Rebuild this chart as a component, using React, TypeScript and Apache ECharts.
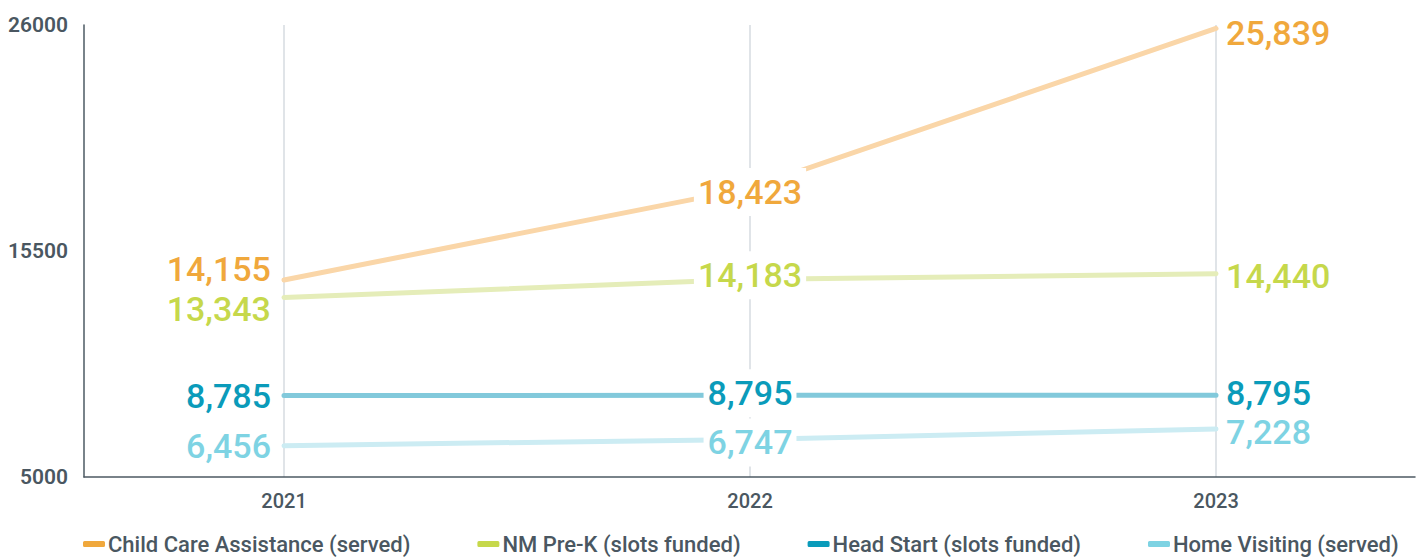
import React, { useEffect, useRef } from "react";
import * as echarts from "echarts";

const years = [2021, 2022, 2023];
const childCare = [14155, 18423, 25839];
const preK = [13343, 14183, 14440];
const headStart = [8785, 8795, 8795];
const homeVisiting = [6456, 6747, 7228];
const yTicks = [5000, 15500, 26000];
const seriesNames = [
  "Child Care Assistance (served)",
  "NM Pre-K (slots funded)",
  "Head Start (slots funded)",
  "Home Visiting (served)",
];

const FONT = "Roboto, 'Noto Sans', sans-serif";
const TEXT = "#4A5761";

export default function App() {
  const ref = useRef<HTMLDivElement>(null);
  useEffect(() => {
    if (!ref.current) return;
    const chart = echarts.init(ref.current, undefined, { renderer: "svg" });

    const values = [childCare, preK, headStart, homeVisiting];
    const labelColors = ["#F0A83C", "#C6D84B", "#0A9BBA", "#7ED3E3"];
    const lineColors = ["#FAD6A8", "#E5EDB9", "#82C9DB", "#CCECF3"];
    const leftOffsets = [
      [0, -11],
      [0, 12],
      [0, 0],
      [0, 0],
    ];
    const rightOffsets = [
      [0, 5],
      [0, 2],
      [0, -2],
      [0, 3],
    ];
    const midOffsets = [
      [0, 4],
      [0, -4],
      [0, -2],
      [0, 3],
    ];

    const fmt = (v: number) => v.toLocaleString("en-US");

    const series = values.map((vals, si) => ({
      name: seriesNames[si],
      type: "line",
      symbol: "circle",
      symbolSize: 0.1,
      showSymbol: true,
      itemStyle: { color: labelColors[si] },
      lineStyle: { color: lineColors[si], width: 5, cap: "round" },
      z: 2,
      data: vals.map((v, i) => {
        const base = {
          show: true,
          color: labelColors[si],
          fontFamily: FONT,
          fontSize: 34,
          lineHeight: 30,
          fontWeight: 500,
          formatter: (p: any) => fmt(p.value[1]),
        };
        let label: any;
        if (i === 0) {
          label = { ...base, position: "left", distance: 13, offset: leftOffsets[si] };
        } else if (i === vals.length - 1) {
          label = { ...base, position: "right", distance: 10, offset: rightOffsets[si] };
        } else {
          label = {
            ...base,
            position: "inside",
            offset: midOffsets[si],
            backgroundColor: "#ffffff",
            padding: [9, 4],
          };
        }
        return { value: [years[i], v], label };
      }),
    }));

    chart.setOption({
      animation: false,
      grid: { left: 84, right: 9, top: 25, bottom: 80, containLabel: false },
      legend: {
        left: 83,
        top: 533,
        padding: 0,
        icon: "roundRect",
        itemWidth: 22,
        itemHeight: 6,
        itemGap: 67,
        textStyle: { fontFamily: FONT, fontSize: 22, fontWeight: 500, color: TEXT, padding: [0, 0, 0, -2] },
        data: seriesNames.map((n, i) => ({ name: n, itemStyle: { color: labelColors[i] } })),
      },
      xAxis: {
        type: "value",
        min: 2020.5708,
        max: 2023.427,
        axisLine: { show: true, lineStyle: { color: "#4D5A63", width: 1.5 } },
        axisTick: { show: false, customValues: years },
        axisLabel: {
          customValues: years,
          formatter: (v: number) => String(v),
          fontFamily: FONT,
          fontSize: 20,
          fontWeight: 500,
          color: TEXT,
          margin: 14,
        },
        splitLine: { show: true, lineStyle: { color: "#D6DBE0", width: 1.5 } },
      },
      yAxis: {
        type: "value",
        min: 5000,
        max: 26000,
        axisLine: { show: true, lineStyle: { color: "#4D5A63", width: 1.5 } },
        axisTick: { show: false, customValues: yTicks },
        axisLabel: {
          customValues: yTicks,
          formatter: (v: number) => String(v),
          fontFamily: FONT,
          fontSize: 21,
          fontWeight: 600,
          color: TEXT,
          margin: 16,
        },
        splitLine: { show: false },
      },
      series,
    });

    return () => chart.dispose();
  }, []);

  return (
    <div
      ref={ref}
      style={{ position: "fixed", left: 0, top: 0, width: 1424, height: 557, background: "#fff" }}
    />
  );
}
